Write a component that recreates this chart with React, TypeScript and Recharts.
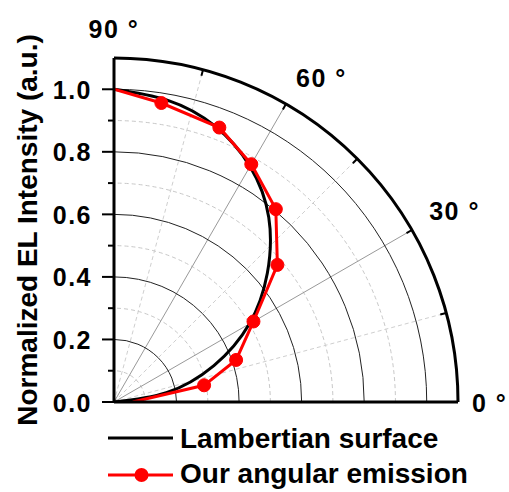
import React from 'react';
import { ComposedChart, Line, XAxis, YAxis, ReferenceLine, Legend } from 'recharts';

/* ───────── Data (angle from the horizontal, normalized EL intensity) ───────── */

const LAMBERT_ANGLES = [0, 10, 20, 30, 40, 50, 60, 70, 80, 90];
const LAMBERTIAN = [0, 0.17, 0.34, 0.5, 0.64, 0.77, 0.87, 0.94, 0.98, 1.0];

const MEASURED_ANGLES = [0, 10.5, 19, 30, 40, 50, 60, 69, 81, 90];
const MEASURED = [0.06, 0.293, 0.413, 0.515, 0.682, 0.805, 0.878, 0.94, 0.968, 1.0];

const Y_TICKS = [0, 0.1, 0.2, 0.3, 0.4, 0.5, 0.6, 0.7, 0.8, 0.9, 1.0];
const SOLID_RINGS = [0.2, 0.4, 0.6, 0.8, 1.0];
const DASHED_RINGS = [0.1, 0.3, 0.5, 0.7, 0.9];
const SOLID_SPOKES = [30, 60];
const DASHED_SPOKES = [15, 45, 75];
const RIM_TICKS = [15, 30, 45, 60, 75];
const ANGLE_LABELS = [0, 30, 60, 90];
const R_MAX = 1.1;

/* ───────── Theme ───────── */

const FONT = '"Liberation Sans", Arial, Helvetica, sans-serif';
const RED = '#ff0000';
const W = 509;
const H = 492;

const rad = (deg: number) => (deg * Math.PI) / 180;
const toXY = (deg: number, r: number) => ({ x: r * Math.cos(rad(deg)), y: r * Math.sin(rad(deg)) });

const lambertData = LAMBERT_ANGLES.map((a, i) => ({ angle: a, ...toXY(a, LAMBERTIAN[i]) }));
const measuredData = MEASURED_ANGLES.map((a, i) => ({ angle: a, ...toXY(a, MEASURED[i]) }));

/* ───────── Shapes ───────── */

// quarter ring drawn from a segment (0,0)->(r,0): x1,y1 = origin, x2 - x1 = radius in px
const ringShape = (stroke: string, width: number, dash?: string) => (p: any) => {
  const R = p.x2 - p.x1;
  return (
    <path
      d={`M ${p.x2} ${p.y1} A ${R} ${R} 0 0 0 ${p.x1} ${p.y1 - R}`}
      fill="none"
      stroke={stroke}
      strokeWidth={width}
      strokeDasharray={dash}
    />
  );
};

const rimShape = (p: any) => {
  const R = p.x2 - p.x1;
  return (
    <g>
      <path
        d={`M ${p.x2} ${p.y1} A ${R} ${R} 0 0 0 ${p.x1} ${p.y1 - R}`}
        fill="none"
        stroke="#000"
        strokeWidth={3}
      />
      {ANGLE_LABELS.map((a) => {
        const d = a === 0 ? R + 14 : R + 20;
        return (
          <text
            key={a}
            x={p.x1 + d * Math.cos(rad(a))}
            y={p.y1 - d * Math.sin(rad(a)) + (a === 0 ? 10 : 0)}
            textAnchor={a === 90 ? 'middle' : 'start'}
            fontFamily={FONT}
            fontWeight="bold"
            fontSize={25}
            letterSpacing={1.5}
            fill="#000"
          >
            {`${a} °`}
          </text>
        );
      })}
    </g>
  );
};

function YTick({ x, y, payload }: any) {
  const v = payload.value as number;
  const major = Math.round(v * 10) % 2 === 0;
  return (
    <g>
      <line x1={x - (major ? 12 : 6)} x2={x} y1={y} y2={y} stroke="#000" strokeWidth={2} />
      {major && (
        <text x={x - 22} y={y + 9.5} textAnchor="end" fontFamily={FONT} fontWeight="bold"
          fontSize={25} letterSpacing={1.5} fill="#000">
          {v.toFixed(1)}
        </text>
      )}
    </g>
  );
}

function YLabel({ viewBox }: any) {
  const cx = viewBox.x + 37;
  const cy = viewBox.y + viewBox.height / 2;
  return (
    <text
      transform={`translate(${cx}, ${cy}) rotate(-90)`}
      textAnchor="middle"
      fontFamily={FONT}
      fontWeight="bold"
      fontSize={28}
      fill="#000"
    >
      Normalized EL Intensity (a.u.)
    </text>
  );
}

function LegendContent() {
  const txt = { fontFamily: FONT, fontWeight: 'bold' as const, fontSize: 28, fill: '#000' };
  return (
    <svg width={409} height={74} style={{ display: 'block', overflow: 'visible' }}>
      <line x1={8} x2={73} y1={20} y2={20} stroke="#000" strokeWidth={3} />
      <text x={80} y={30} {...txt}>Lambertian surface</text>
      <line x1={8} x2={73} y1={57} y2={57} stroke={RED} strokeWidth={3} />
      <circle cx={41.5} cy={57} r={7} fill={RED} />
      <text x={80} y={65} {...txt}>Our angular emission</text>
    </svg>
  );
}

const renderDot = (p: any) => {
  const a = p.payload?.angle;
  if (a === 0 || a === 90) return <g key={p.key ?? `d${p.index}`} />;
  return <circle key={p.key ?? `d${p.index}`} cx={p.cx} cy={p.cy} r={6.5} fill={RED} stroke={RED} />;
};

/* ───────── Chart ───────── */

export default function App() {
  return (
    <div style={{ position: 'absolute', left: 0, top: 0, width: W, height: H, background: '#fff' }}>
      <ComposedChart width={W} height={H} margin={{ top: 58, right: 51, bottom: 90, left: 0 }}>
        <XAxis hide type="number" dataKey="x" domain={[0, R_MAX]} allowDataOverflow />

        {DASHED_RINGS.map((r) => (
          <ReferenceLine key={`dr${r}`} zIndex={-10} ifOverflow="visible"
            segment={[{ x: 0, y: 0 }, { x: r, y: 0 }]} shape={ringShape('#c8c8c8', 1, '4 3')} />
        ))}
        {DASHED_SPOKES.map((a) => (
          <ReferenceLine key={`ds${a}`} zIndex={-10} ifOverflow="visible"
            segment={[{ x: 0, y: 0 }, toXY(a, R_MAX)]} stroke="#cfcfcf" strokeWidth={1} strokeDasharray="4 3" />
        ))}
        {SOLID_SPOKES.map((a) => (
          <ReferenceLine key={`ss${a}`} zIndex={-10} ifOverflow="visible"
            segment={[{ x: 0, y: 0 }, toXY(a, R_MAX)]} stroke="#999" strokeWidth={1} />
        ))}
        {SOLID_RINGS.map((r) => (
          <ReferenceLine key={`sr${r}`} zIndex={-10} ifOverflow="visible"
            segment={[{ x: 0, y: 0 }, { x: r, y: 0 }]} shape={ringShape('#222', 1)} />
        ))}

        <Line
          data={lambertData}
          dataKey="y"
          type="natural"
          stroke="#000"
          strokeWidth={3}
          dot={false}
          activeDot={false}
          isAnimationActive={false}
          name="Lambertian surface"
        />
        <Line
          data={measuredData}
          dataKey="y"
          type="linear"
          stroke={RED}
          strokeWidth={3}
          dot={renderDot}
          activeDot={false}
          isAnimationActive={false}
          name="Our angular emission"
        />

        {RIM_TICKS.map((a) => (
          <ReferenceLine key={`rt${a}`} zIndex={600} ifOverflow="visible"
            segment={[toXY(a, R_MAX - 0.02), toXY(a, R_MAX)]} stroke="#000" strokeWidth={2} />
        ))}
        <ReferenceLine zIndex={600} ifOverflow="visible"
          segment={[{ x: 0, y: 0 }, { x: R_MAX, y: 0 }]} shape={rimShape} />
        <ReferenceLine zIndex={600} ifOverflow="visible" y={0} stroke="#000" strokeWidth={3} />

        <YAxis
          type="number"
          domain={[0, R_MAX]}
          allowDataOverflow
          ticks={Y_TICKS}
          interval={0}
          width={114}
          tickSize={0}
          tickMargin={0}
          tickLine={false}
          axisLine={{ stroke: '#000', strokeWidth: 3 }}
          tick={(p: any) => <YTick {...p} />}
          label={(p: any) => <YLabel {...p} />}
        />

        <Legend
          content={() => <LegendContent />}
          layout="horizontal"
          verticalAlign="middle"
          align="center"
          wrapperStyle={{ left: 100, top: 418, width: 409, height: 74 }}
        />
      </ComposedChart>
    </div>
  );
}
